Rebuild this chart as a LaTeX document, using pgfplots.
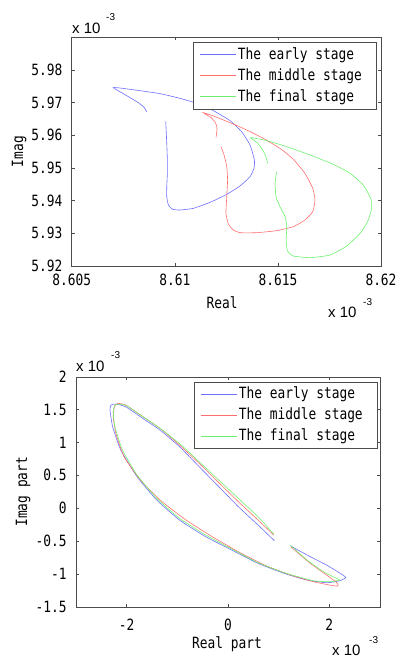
\documentclass[border=0pt]{standalone}
\usepackage{pgfplots}
\pgfplotsset{compat=1.18}
\usepackage{fontspec}
\setmainfont[FakeStretch=0.83]{DejaVu Sans Mono}
\newfontfamily\sansf{Liberation Sans}
\definecolor{earlyc}{RGB}{110,110,255}
\definecolor{middlec}{RGB}{255,110,110}
\definecolor{finalc}{RGB}{110,240,110}
\newcommand\mf{\fontsize{15.5}{17}\selectfont}
\newcommand\rp{\rule{6pt}{0pt}}
\pgfplotsset{
  myaxis/.style={
    scale only axis,
    tick align=inside, major tick length=3pt,
    axis line style={black!70}, every tick/.style={black!70},
    /pgf/number format/assume math mode=true,
    tick label style={font=\mf},
    label style={font=\mf},
    yticklabel style={xshift=-4pt},
    legend cell align=left,
    legend style={draw=black!70, fill=white, font=\mf,
      inner xsep=6pt, inner ysep=3pt, row sep=3pt, nodes={inner sep=2pt}, cells={anchor=west}},
    legend image code/.code={\draw[##1] (0pt,0pt) -- (36pt,0pt);},
    every axis plot/.append style={line width=0.6pt, smooth, tension=0.3},
  }
}
\begin{document}
\mf
\begin{tikzpicture}[x=1pt,y=1pt]
\path (0,0) rectangle (395,-657);
% ---------- top ----------
\begin{axis}[myaxis, at={(71.7pt,-266pt)}, anchor=south west,
  width=309.3pt, height=228.7pt,
  xmin=8.605, xmax=8.62, ymin=5.92, ymax=5.99,
  xtick={8.605,8.61,8.615,8.62}, xticklabels={8.605,8.61,8.615,8.62},
  ytick={5.92,5.93,5.94,5.95,5.96,5.97,5.98},
  yticklabels={5.92,5.93,5.94,5.95,5.96,5.97,5.98},
  xticklabel style={yshift=-3pt},
  xlabel={Real}, ylabel={Imag},
  xlabel style={at={(axis description cs:0.486,-0.162)}, anchor=center},
  ylabel style={at={(axis description cs:-0.170,0.5)}, anchor=center},
  legend style={at={(0.984,0.979)}, anchor=north east},
]
\addplot[earlyc] coordinates {
(8.60864,5.96724) (8.60851,5.96857) (8.60823,5.97000) (8.60783,5.97153) (8.60742,5.97306) (8.60702,5.97459)
(8.60734,5.97449) (8.60831,5.97367) (8.60928,5.97276) (8.61025,5.97133) (8.61106,5.96980) (8.61187,5.96755)
(8.61268,5.96449) (8.61324,5.96112) (8.61365,5.95704) (8.61386,5.95245) (8.61384,5.94990) (8.61365,5.94735)
(8.61316,5.94449) (8.61252,5.94194) (8.61171,5.93949) (8.61090,5.93765) (8.61025,5.93714) (8.60990,5.93735)
(8.60969,5.93867) (8.60961,5.94122) (8.60961,5.94429) (8.60964,5.94837) (8.60964,5.95245) (8.60961,5.95755)
(8.60956,5.96418)};
\addlegendentry{The early stage\rp}
\addplot[middlec] coordinates {
(8.61200,5.95939) (8.61205,5.96214) (8.61197,5.96388) (8.61174,5.96551) (8.61138,5.96694)
(8.61187,5.96592) (8.61268,5.96388) (8.61349,5.96163) (8.61429,5.95908) (8.61510,5.95602) (8.61575,5.95265)
(8.61631,5.94837) (8.61669,5.94378) (8.61680,5.94020) (8.61669,5.93663) (8.61631,5.93408) (8.61575,5.93204)
(8.61494,5.93082) (8.61397,5.93020) (8.61316,5.93020) (8.61284,5.93102) (8.61260,5.93286) (8.61248,5.93612)
(8.61252,5.94122) (8.61256,5.94633) (8.61252,5.95041) (8.61239,5.95398) (8.61224,5.95653)};
\addlegendentry{The middle stage\rp}
\addplot[finalc] coordinates {
(8.61450,5.95143) (8.61442,5.95347) (8.61426,5.95551) (8.61400,5.95775) (8.61368,5.95929)
(8.61446,5.95837) (8.61543,5.95653) (8.61656,5.95398) (8.61769,5.95112) (8.61850,5.94837) (8.61914,5.94480)
(8.61950,5.94071) (8.61955,5.93765) (8.61935,5.93357) (8.61898,5.93000) (8.61834,5.92612) (8.61753,5.92337)
(8.61656,5.92255) (8.61575,5.92306) (8.61546,5.92469) (8.61540,5.92796) (8.61543,5.93204) (8.61535,5.93510)
(8.61510,5.93816) (8.61491,5.94122) (8.61486,5.94531) (8.61494,5.94888)};
\addlegendentry{The final stage\rp}
\end{axis}
\node[anchor=base west, inner sep=0pt, font=\sansf\fontsize{15}{15}\selectfont] at (72,-33) {x 10};
\node[anchor=base west, inner sep=0pt, font=\sansf\fontsize{10}{10}\selectfont] at (106,-20) {-3};
\node[anchor=base west, inner sep=0pt, font=\sansf\fontsize{15}{15}\selectfont] at (328,-317) {x 10};
\node[anchor=base west, inner sep=0pt, font=\sansf\fontsize{10}{10}\selectfont] at (363,-305) {-3};
% ---------- bottom ----------
\begin{axis}[myaxis, at={(76pt,-606.7pt)}, anchor=south west,
  width=304pt, height=230pt,
  xmin=-3, xmax=3, ymin=-1.5, ymax=2,
  xtick={-2,0,2}, xticklabels={-2,0,2},
  ytick={-1.5,-1,-0.5,0,0.5,1,1.5,2},
  yticklabels={-1.5,-1,-0.5,0,0.5,1,1.5,2},
  xticklabel style={yshift=-7pt},
  xlabel={Real part}, ylabel={Imag part},
  xlabel style={at={(axis description cs:0.497,-0.162)}, anchor=center},
  ylabel style={at={(axis description cs:-0.174,0.5)}, anchor=center},
  legend style={at={(0.99,0.979)}, anchor=north east},
]
\addplot[earlyc] coordinates {
(1.239,-0.577) (1.561,-0.714) (1.948,-0.867) (2.271,-1.019) (2.323,-1.059) (2.206,-1.105) (1.948,-1.135)
(1.561,-1.095) (1.110,-0.993) (0.594,-0.841) (0.077,-0.638) (-0.439,-0.435) (-0.955,-0.182) (-1.406,0.123)
(-1.794,0.478) (-2.116,0.884) (-2.277,1.239) (-2.329,1.493) (-2.310,1.569) (-2.213,1.584) (-2.019,1.543)
(-1.729,1.391) (-1.342,1.188) (-0.955,0.935) (-0.568,0.630) (-0.181,0.326) (0.206,0.021) (0.594,-0.258)
(0.916,-0.496)};
\addlegendentry{The early stage\rp}
\addplot[middlec] coordinates {
(1.239,-0.588) (1.626,-0.841) (1.948,-1.019) (2.142,-1.130) (2.174,-1.186) (2.013,-1.171) (1.690,-1.120)
(1.239,-1.019) (0.723,-0.867) (0.206,-0.664) (-0.310,-0.435) (-0.826,-0.182) (-1.342,0.123) (-1.729,0.427)
(-2.052,0.782) (-2.213,1.137) (-2.265,1.391) (-2.245,1.533) (-2.181,1.594) (-2.019,1.569) (-1.729,1.417)
(-1.342,1.214) (-0.955,0.960) (-0.568,0.681) (-0.181,0.387) (0.206,0.097) (0.594,-0.182) (0.903,-0.410)};
\addlegendentry{The middle stage\rp}
\addplot[finalc] coordinates {
(1.226,-0.562) (1.561,-0.790) (1.884,-0.968) (2.142,-1.069) (2.206,-1.095) (2.013,-1.120) (1.690,-1.105)
(1.110,-0.983) (0.594,-0.831) (0.077,-0.623) (-0.439,-0.410) (-0.955,-0.156) (-1.406,0.148) (-1.794,0.503)
(-2.084,0.884) (-2.232,1.239) (-2.265,1.467) (-2.232,1.569) (-2.148,1.584) (-1.987,1.554) (-1.697,1.401)
(-1.310,1.198) (-0.923,0.960) (-0.535,0.681) (-0.148,0.402) (0.239,0.123) (0.626,-0.156) (0.903,-0.395)};
\addlegendentry{The final stage\rp}
\end{axis}
\node[anchor=base west, inner sep=0pt, font=\sansf\fontsize{15}{15}\selectfont] at (76,-371) {x 10};
\node[anchor=base west, inner sep=0pt, font=\sansf\fontsize{10}{10}\selectfont] at (111,-358) {-3};
\node[anchor=base west, inner sep=0pt, font=\sansf\fontsize{15}{15}\selectfont] at (332,-655) {x 10};
\node[anchor=base west, inner sep=0pt, font=\sansf\fontsize{10}{10}\selectfont] at (369,-643) {-3};
\end{tikzpicture}
\end{document}
